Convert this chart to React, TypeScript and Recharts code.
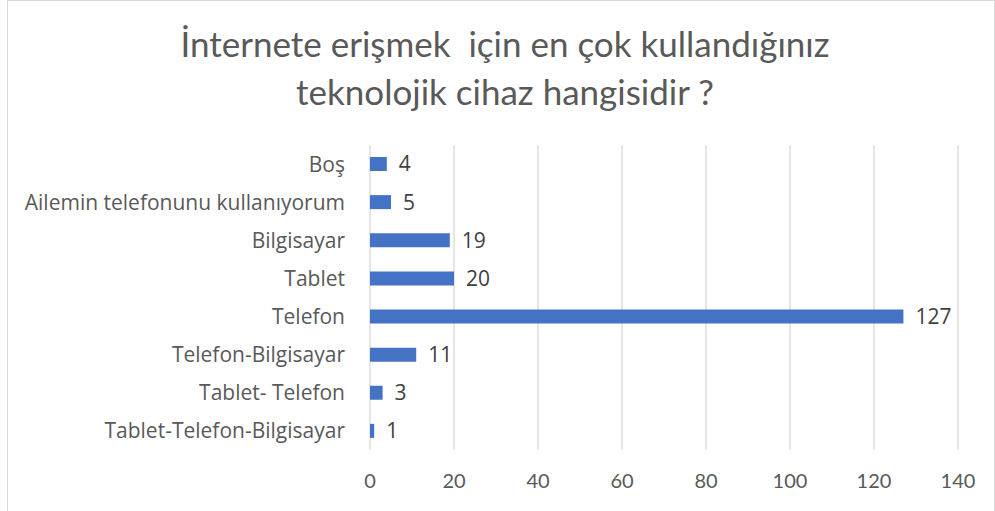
import { Bar, BarChart, CartesianGrid, LabelList, XAxis, YAxis } from "recharts";

const categories = [
  "Boş",
  "Ailemin telefonunu kullanıyorum",
  "Bilgisayar",
  "Tablet",
  "Telefon",
  "Telefon-Bilgisayar",
  "Tablet- Telefon",
  "Tablet-Telefon-Bilgisayar",
];
const counts = [4, 5, 19, 20, 127, 11, 3, 1];
const xTicks = [0, 20, 40, 60, 80, 100, 120, 140];
const titleLines = ["İnternete erişmek  için en çok kullandığınız", "teknolojik cihaz hangisidir ?"];

const TITLE_FONT = "Lato, sans-serif";
const LABEL_FONT = "'Open Sans', 'Noto Sans', sans-serif";

export default function App() {
  const data = categories.map((name, i) => ({ name, value: counts[i] }));

  return (
    <div
      style={{
        position: "absolute",
        left: 7,
        top: 0,
        width: 986,
        height: 510,
        border: "1px solid #d9d9d9",
        background: "#fff",
      }}
    >
      {/* title */}
      <div
        style={{
          position: "absolute",
          left: 8,
          right: 0,
          top: 18,
          textAlign: "center",
          color: "#595959",
          fontFamily: TITLE_FONT,
          fontSize: 35,
          lineHeight: "48px",
          whiteSpace: "pre",
        }}
      >
        {titleLines.join("\n")}
      </div>
      <BarChart
        width={986}
        height={510}
        data={data}
        layout="vertical"
        margin={{ top: 144, right: 36, bottom: 31, left: 0 }}
      >
        <CartesianGrid vertical horizontal={false} stroke="#d9d9d9" strokeWidth={1.3} />
        <XAxis
          type="number"
          domain={[0, 140]}
          ticks={xTicks}
          axisLine={false}
          tickLine={false}
          tickMargin={18}
          height={30}
          tick={{ fill: "#595959", fontSize: 20, fontFamily: TITLE_FONT }}
        />
        <YAxis
          type="category"
          dataKey="name"
          width={362}
          axisLine={false}
          tickLine={false}
          tickMargin={19}
          tick={{ fill: "#595959", fontSize: 21, fontFamily: LABEL_FONT }}
        />
        <Bar dataKey="value" fill="#4472c4" barSize={14} isAnimationActive={false}>
          <LabelList
            dataKey="value"
            position="right"
            offset={12}
            fill="#404040"
            fontSize={21}
            fontFamily={LABEL_FONT}
          />
        </Bar>
      </BarChart>
    </div>
  );
}
